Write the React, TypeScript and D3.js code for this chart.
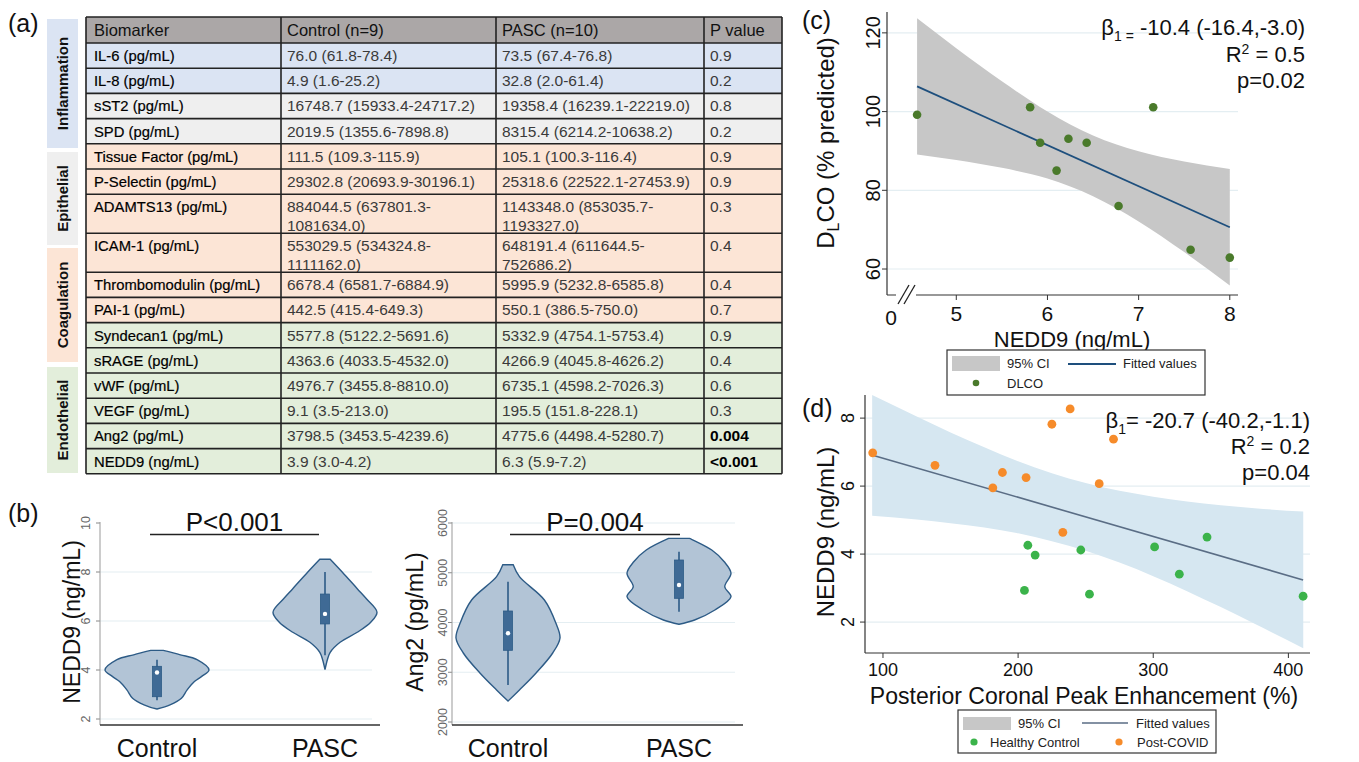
import React from 'react';
import * as d3 from 'd3';

const FONT = '"Liberation Sans", Arial, Helvetica, sans-serif';

// ---- (a) table ----
const tableHeaders = ['Biomarker', 'Control (n=9)', 'PASC (n=10)', 'P value'];
const biomarkers = ['IL-6 (pg/mL)', 'IL-8 (pg/mL)', 'sST2 (pg/mL)', 'SPD (pg/mL)', 'Tissue Factor (pg/mL)',
  'P-Selectin (pg/mL)', 'ADAMTS13 (pg/mL)', 'ICAM-1 (pg/mL)', 'Thrombomodulin (pg/mL)', 'PAI-1 (pg/mL)',
  'Syndecan1 (pg/mL)', 'sRAGE (pg/mL)', 'vWF (pg/mL)', 'VEGF (pg/mL)', 'Ang2 (pg/mL)', 'NEDD9 (ng/mL)'];
const controlValues = ['76.0 (61.8-78.4)', '4.9 (1.6-25.2)', '16748.7 (15933.4-24717.2)', '2019.5 (1355.6-7898.8)',
  '111.5 (109.3-115.9)', '29302.8 (20693.9-30196.1)', '884044.5 (637801.3-1081634.0)', '553029.5 (534324.8-1111162.0)',
  '6678.4 (6581.7-6884.9)', '442.5 (415.4-649.3)', '5577.8 (5122.2-5691.6)', '4363.6 (4033.5-4532.0)',
  '4976.7 (3455.8-8810.0)', '9.1 (3.5-213.0)', '3798.5 (3453.5-4239.6)', '3.9 (3.0-4.2)'];
const pascValues = ['73.5 (67.4-76.8)', '32.8 (2.0-61.4)', '19358.4 (16239.1-22219.0)', '8315.4 (6214.2-10638.2)',
  '105.1 (100.3-116.4)', '25318.6 (22522.1-27453.9)', '1143348.0 (853035.7-1193327.0)', '648191.4 (611644.5-752686.2)',
  '5995.9 (5232.8-6585.8)', '550.1 (386.5-750.0)', '5332.9 (4754.1-5753.4)', '4266.9 (4045.8-4626.2)',
  '6735.1 (4598.2-7026.3)', '195.5 (151.8-228.1)', '4775.6 (4498.4-5280.7)', '6.3 (5.9-7.2)'];
const pValues = ['0.9', '0.2', '0.8', '0.2', '0.9', '0.9', '0.3', '0.4', '0.4', '0.7', '0.9', '0.4', '0.6', '0.3', '0.004', '<0.001'];
const rowGroup = [0, 0, 1, 1, 2, 2, 2, 2, 2, 2, 3, 3, 3, 3, 3, 3];
const groupNames = ['Inflammation', 'Epithelial', 'Coagulation', 'Endothelial'];
const groupColors = ['#dbe4f3', '#efefef', '#fce5d6', '#e3eedb'];

// ---- (b) violins: [value, relative half width] ----
const nedd9ControlShape: [number, number][] = [[2.41, 0], [2.58, 0.25], [2.85, 0.47], [3.19, 0.58], [3.53, 0.72], [3.74, 0.86], [4.0, 1.0], [4.42, 0.77], [4.62, 0.45], [4.8, 0.12]];
const nedd9PascShape: [number, number][] = [[4.02, 0], [4.45, 0.05], [4.72, 0.1], [5.13, 0.29], [5.54, 0.62], [5.95, 0.88], [6.36, 1.0], [6.9, 0.8], [7.32, 0.62], [8.0, 0.33], [8.52, 0.1]];
const ang2ControlShape: [number, number][] = [[2420, 0], [2643, 0.22], [2985, 0.54], [3387, 0.86], [3689, 1.0], [3990, 0.92], [4452, 0.7], [4921, 0.22], [5160, 0.1]];
const ang2PascShape: [number, number][] = [[3964, 0], [4050, 0.3], [4251, 0.69], [4519, 1.0], [4720, 0.88], [4989, 1.0], [5222, 0.87], [5457, 0.63], [5690, 0.2]];
// [low whisker, q1, median, q3, high whisker]
const nedd9ControlBox = [2.77, 2.91, 3.9, 4.15, 4.42];
const nedd9PascBox = [4.6, 5.88, 6.29, 7.1, 8.0];
const ang2ControlBox = [2744, 3441, 3784, 4231, 4820];
const ang2PascBox = [4218, 4486, 4754, 5256, 5424];
const groups = ['Control', 'PASC'];
const nedd9Ticks = [2, 4, 6, 8, 10];
const ang2Ticks = [2000, 3000, 4000, 5000, 6000];

// ---- (c) DLCO vs NEDD9 ----
const cNedd9 = [4.57, 5.81, 5.92, 6.10, 6.23, 6.43, 6.78, 7.16, 7.57, 8.0];
const cDlco = [99.2, 101.1, 92.1, 85.0, 93.1, 92.1, 76.0, 101.1, 64.9, 62.9];
const cFitX = [4.57, 8.0];
const cFitY = [106.4, 70.6];
const cBandX = [4.57, 5, 5.5, 6, 6.5, 7, 7.5, 8];
const cBandLow = [89.1, 87.7, 85.7, 83.0, 78.5, 72.1, 64.3, 55.8];
const cBandHigh = [123.7, 116.1, 107.7, 100.0, 93.9, 89.9, 87.3, 85.4];
const cXTicks = [5, 6, 7, 8];
const cYTicks = [60, 80, 100, 120];

// ---- (d) NEDD9 vs posterior coronal peak enhancement ----
const dCovidX = [92.4, 138.5, 188.4, 205.9, 181.3, 225.0, 238.5, 270.6, 260.0, 233.1];
const dCovidY = [6.98, 6.61, 6.40, 6.25, 5.95, 7.82, 8.27, 7.38, 6.07, 4.64];
const dHealthyX = [207.2, 212.6, 246.4, 204.7, 252.8, 301.0, 319.3, 339.8, 410.9];
const dHealthyY = [4.26, 3.97, 4.12, 2.93, 2.82, 4.21, 3.41, 4.50, 2.76];
const dFitX = [92.4, 410.9];
const dFitY = [6.91, 3.24];
const dBandX = [92, 125, 150, 175, 200, 225, 250, 275, 300, 325, 350, 375, 411];
const dBandLow = [5.13, 5.02, 4.91, 4.78, 4.61, 4.38, 4.10, 3.75, 3.35, 2.91, 2.44, 1.95, 1.23];
const dBandHigh = [8.68, 8.05, 7.58, 7.14, 6.73, 6.38, 6.09, 5.86, 5.69, 5.55, 5.44, 5.35, 5.25];
const dXTicks = [100, 200, 300, 400];
const dYTicks = [2, 4, 6, 8];

const GRID = '#e4eef2';

function wrapCell(s: string): string[] {
  if (s.length <= 26) return [s];
  const i = s.indexOf('-', s.indexOf('('));
  return [s.slice(0, i + 1), s.slice(i + 1)];
}

function Table() {
  const cols = [86, 281, 496, 704, 782];
  const headerTop = 17, headerBottom = 43;
  const rows = biomarkers.map((b, i) => {
    const c = wrapCell(controlValues[i]);
    const p = wrapCell(pascValues[i]);
    return { b, c, p, pv: pValues[i], g: rowGroup[i], h: c.length > 1 || p.length > 1 ? 39 : 25.2 };
  });
  let y = headerBottom;
  const placed = rows.map(r => { const top = y; y += r.h; return { ...r, top }; });
  const bottom = y;
  const sideBoxes = [[19, 148], [152, 245], [248, 362], [367, 473]];
  return (
    <g fontFamily={FONT}>
      {sideBoxes.map(([a, b], i) => (
        <g key={i}>
          <rect x={47} y={a} width={31} height={b - a} fill={groupColors[i]} />
          <text transform={`translate(68,${(a + b) / 2}) rotate(-90)`} textAnchor="middle" fontSize={15} fontWeight="bold" fill="#111">{groupNames[i]}</text>
        </g>
      ))}
      <rect x={cols[0]} y={headerTop} width={cols[4] - cols[0]} height={headerBottom - headerTop} fill="#aba7a7" />
      {placed.map((r, i) => (
        <rect key={i} x={cols[0]} y={r.top} width={cols[4] - cols[0]} height={r.h} fill={groupColors[r.g]} />
      ))}
      {tableHeaders.map((t, j) => (
        <text key={j} x={cols[j] + (j === 0 ? 8 : 6)} y={headerTop + 19} fontSize={16.5} fill="#111">{t}</text>
      ))}
      {placed.map((r, i) => (
        <g key={i}>
          <text x={cols[0] + 8} y={r.top + 18} fontSize={14.8} fill="#000" stroke="#000" strokeWidth={0.2}>{r.b}</text>
          {r.c.map((l, k) => <text key={k} x={cols[1] + 6} y={r.top + 18 + k * 19} fontSize={15.5} fill="#3a3a3a">{l}</text>)}
          {r.p.map((l, k) => <text key={k} x={cols[2] + 6} y={r.top + 18 + k * 19} fontSize={15.5} fill="#3a3a3a">{l}</text>)}
          <text x={cols[3] + 6} y={r.top + 18} fontSize={15.5} fill={r.pv === '0.004' || r.pv === '<0.001' ? '#000' : '#3a3a3a'}
            fontWeight={r.pv === '0.004' || r.pv === '<0.001' ? 'bold' : 'normal'}>{r.pv}</text>
        </g>
      ))}
      {[headerTop, headerBottom, ...placed.map(r => r.top + r.h)].map((yy, i) => (
        <line key={'h' + i} x1={cols[0]} x2={cols[4]} y1={yy} y2={yy} stroke="#222" strokeWidth={1.6} />
      ))}
      {cols.map((xx, i) => (
        <line key={'v' + i} x1={xx} x2={xx} y1={headerTop} y2={bottom} stroke="#222" strokeWidth={1.6} />
      ))}
    </g>
  );
}

function Violin({ shape, box, cx, y }: { shape: [number, number][]; box: number[]; cx: number; y: d3.ScaleLinear<number, number> }) {
  const w = d3.scaleLinear().domain([0, 1]).range([0, 52]);
  const area = d3.area<[number, number]>()
    .y(d => y(d[0]))
    .x0(d => cx - w(d[1]))
    .x1(d => cx + w(d[1]))
    .curve(d3.curveCatmullRom);
  const [lo, q1, med, q3, hi] = box;
  return (
    <g>
      <path d={area(shape) || ''} fill="#b2c4d6" stroke="#2d5b86" strokeWidth={1.4} />
      <line x1={cx} x2={cx} y1={y(lo)} y2={y(hi)} stroke="#2d5b86" strokeWidth={1.6} />
      <rect x={cx - 4.5} width={9} y={y(q3)} height={y(q1) - y(q3)} fill="#3f6a95" stroke="#2d5b86" strokeWidth={0.8} />
      <circle cx={cx} cy={y(med)} r={2.2} fill="#fff" />
    </g>
  );
}

function ViolinPanel({ axisX, right, yDomain, yRange, ticks, label, labelX, tickX, xRange, shapes, boxes, pText, pLine, topGrid }: any) {
  const y = d3.scaleLinear().domain(yDomain).range(yRange);
  const x = d3.scalePoint().domain(groups).range(xRange);
  return (
    <g fontFamily={FONT}>
      {ticks.map((t: number, i: number) => (
        <g key={t}>
          {i < ticks.length - 1 || topGrid ? <line x1={axisX} x2={right - 8} y1={y(t)} y2={y(t)} stroke={GRID} strokeWidth={1.2} /> : null}
          <line x1={axisX - 4} x2={axisX} y1={y(t)} y2={y(t)} stroke="#888" />
          <text transform={`translate(${tickX},${y(t)}) rotate(-90)`} textAnchor="middle" fontSize={12.5} fill="#666">{t}</text>
        </g>
      ))}
      <line x1={axisX} x2={axisX} y1={522} y2={725} stroke="#999" strokeWidth={1} />
      <line x1={axisX} x2={right} y1={725} y2={725} stroke="#333" strokeWidth={1.3} />
      {groups.map((g, i) => (
        <Violin key={g} shape={shapes[i]} box={boxes[i]} cx={x(g) as number} y={y} />
      ))}
      {groups.map(g => (
        <text key={g} x={x(g) as number} y={757} textAnchor="middle" fontSize={25} fill="#111">{g}</text>
      ))}
      <text transform={`translate(${labelX},622) rotate(-90)`} textAnchor="middle" fontSize={23} fill="#111">{label}</text>
      <line x1={pLine[0]} x2={pLine[1]} y1={534.5} y2={534.5} stroke="#222" strokeWidth={1.3} />
      <text x={(pLine[0] + pLine[1]) / 2} y={531} textAnchor="middle" fontSize={26} fill="#111">{pText}</text>
    </g>
  );
}

function PanelC() {
  const x = d3.scaleLinear().domain([4.24, 8.09]).range([887, 1238]);
  const y = d3.scaleLinear().domain([53.4, 125.3]).range([295, 12]);
  const band = d3.area<number>().x((_, i) => x(cBandX[i])).y0((_, i) => y(cBandLow[i])).y1((_, i) => y(cBandHigh[i])).curve(d3.curveMonotoneX);
  const fit = d3.line<number>().x((_, i) => x(cFitX[i])).y(d => y(d));
  return (
    <g fontFamily={FONT} fill="#111">
      {cYTicks.map(t => (
        <g key={t}>
          <line x1={887} x2={1238} y1={y(t)} y2={y(t)} stroke={GRID} strokeWidth={1.2} />
          <line x1={882} x2={887} y1={y(t)} y2={y(t)} stroke="#333" />
          <text transform={`translate(880,${y(t)}) rotate(-90)`} textAnchor="middle" fontSize={20}>{t}</text>
        </g>
      ))}
      <path d={band(cBandX) || ''} fill="#c7c7c7" />
      <path d={fit(cFitY) || ''} fill="none" stroke="#1e4f7d" strokeWidth={1.8} />
      {cNedd9.map((v, i) => <circle key={i} cx={x(v)} cy={y(cDlco[i])} r={4.3} fill="#4a7a2b" />)}
      <line x1={887} x2={887} y1={12} y2={295} stroke="#333" strokeWidth={1.2} />
      <line x1={887} x2={1238} y1={295} y2={295} stroke="#333" strokeWidth={1.2} />
      {cXTicks.map(t => (
        <g key={t}>
          <line x1={x(t)} x2={x(t)} y1={295} y2={300} stroke="#333" />
          <text x={x(t)} y={321} textAnchor="middle" fontSize={21}>{t}</text>
        </g>
      ))}
      <text x={891} y={325} textAnchor="middle" fontSize={21}>0</text>
      <rect x={896} y={286} width={20} height={16} fill="#fff" />
      <line x1={898} x2={909} y1={304} y2={285} stroke="#222" strokeWidth={1.3} />
      <line x1={904} x2={915} y1={304} y2={285} stroke="#222" strokeWidth={1.3} />
      <text x={1072} y={347} textAnchor="middle" fontSize={22}>NEDD9 (ng/mL)</text>
      <text transform="translate(834,143) rotate(-90)" textAnchor="middle" fontSize={24}>
        D<tspan dy={5} fontSize={16}>L</tspan><tspan dy={-5}>CO (% predicted)</tspan>
      </text>
      <text x={1305} y={35} textAnchor="end" fontSize={22}>
        β<tspan dy={6} fontSize={14}>1 =</tspan><tspan dy={-6}> -10.4 (-16.4,-3.0)</tspan>
      </text>
      <text x={1305} y={62} textAnchor="end" fontSize={22}>
        R<tspan dy={-8} fontSize={14}>2</tspan><tspan dy={8}> = 0.5</tspan>
      </text>
      <text x={1305} y={88} textAnchor="end" fontSize={22}>p=0.02</text>
      <g fontSize={13} fill="#222">
        <rect x={947} y={350} width={258} height={45} fill="#fff" stroke="#333" strokeWidth={1.2} />
        <rect x={952} y={356} width={48} height={15} fill="#c7c7c7" />
        <text x={1007} y={368}>95% CI</text>
        <line x1={1068} x2={1116} y1={364} y2={364} stroke="#1e4f7d" strokeWidth={1.8} />
        <text x={1123} y={368}>Fitted values</text>
        <circle cx={976} cy={383} r={3.3} fill="#4a7a2b" />
        <text x={1007} y={388}>DLCO</text>
      </g>
    </g>
  );
}

function PanelD() {
  const x = d3.scaleLinear().domain([86.7, 416]).range([865, 1310]);
  const y = d3.scaleLinear().domain([1.09, 8.68]).range([653, 395]);
  const band = d3.area<number>().x((_, i) => x(dBandX[i])).y0((_, i) => y(dBandLow[i])).y1((_, i) => y(dBandHigh[i])).curve(d3.curveMonotoneX);
  const fit = d3.line<number>().x((_, i) => x(dFitX[i])).y(d => y(d));
  return (
    <g fontFamily={FONT} fill="#111">
      {dYTicks.map(t => (
        <g key={t}>
          <line x1={865} x2={1310} y1={y(t)} y2={y(t)} stroke={GRID} strokeWidth={1.2} />
          <line x1={860} x2={865} y1={y(t)} y2={y(t)} stroke="#333" />
          <text transform={`translate(854,${y(t)}) rotate(-90)`} textAnchor="middle" fontSize={18}>{t}</text>
        </g>
      ))}
      <path d={band(dBandX) || ''} fill="#d6e7f1" />
      <path d={fit(dFitY) || ''} fill="none" stroke="#5a6d85" strokeWidth={1.6} />
      {dCovidX.map((v, i) => <circle key={'c' + i} cx={x(v)} cy={y(dCovidY[i])} r={4.4} fill="#f68b2a" />)}
      {dHealthyX.map((v, i) => <circle key={'h' + i} cx={x(v)} cy={y(dHealthyY[i])} r={4.4} fill="#3bb34a" />)}
      <line x1={865} x2={865} y1={395} y2={653} stroke="#333" strokeWidth={1.2} />
      <line x1={865} x2={1310} y1={653} y2={653} stroke="#333" strokeWidth={1.2} />
      {dXTicks.map(t => (
        <g key={t}>
          <line x1={x(t)} x2={x(t)} y1={653} y2={658} stroke="#333" />
          <text x={x(t)} y={676} textAnchor="middle" fontSize={18}>{t}</text>
        </g>
      ))}
      <text x={1084} y={704} textAnchor="middle" fontSize={23}>Posterior Coronal Peak Enhancement (%)</text>
      <text transform="translate(834,532) rotate(-90)" textAnchor="middle" fontSize={24}>NEDD9 (ng/mL)</text>
      <text x={1310} y={428} textAnchor="end" fontSize={22}>
        β<tspan dy={6} fontSize={14}>1</tspan><tspan dy={-6}>= -20.7 (-40.2,-1.1)</tspan>
      </text>
      <text x={1310} y={454} textAnchor="end" fontSize={22}>
        R<tspan dy={-8} fontSize={14}>2</tspan><tspan dy={8}> = 0.2</tspan>
      </text>
      <text x={1310} y={480} textAnchor="end" fontSize={22}>p=0.04</text>
      <g fontSize={13} fill="#222">
        <rect x={958} y={710} width={258} height={43} fill="#fff" stroke="#333" strokeWidth={1.2} />
        <rect x={963} y={717} width={48} height={13} fill="#c7c7c7" />
        <text x={1018} y={728}>95% CI</text>
        <line x1={1082} x2={1128} y1={723} y2={723} stroke="#5a6d85" strokeWidth={1.5} />
        <text x={1136} y={728}>Fitted values</text>
        <circle cx={974} cy={742} r={3.6} fill="#3bb34a" />
        <text x={990} y={747}>Healthy Control</text>
        <circle cx={1119} cy={742} r={3.6} fill="#f68b2a" />
        <text x={1137} y={747}>Post-COVID</text>
      </g>
    </g>
  );
}

export default function App() {
  return (
    <svg width={1359} height={762} style={{ position: 'absolute', left: 0, top: 0, background: '#fff' }}>
      <rect width={1359} height={762} fill="#fff" />
      <g fontFamily={FONT} fontSize={25} fill="#111">
        <text x={8} y={32}>(a)</text>
        <text x={8} y={522}>(b)</text>
        <text x={802} y={29}>(c)</text>
        <text x={802} y={417}>(d)</text>
      </g>
      <Table />
      <ViolinPanel axisX={100} right={380} yDomain={[2, 10]} yRange={[719, 523]} ticks={nedd9Ticks}
        label="NEDD9 (ng/mL)" labelX={80} tickX={90} xRange={[157, 325]}
        shapes={[nedd9ControlShape, nedd9PascShape]} boxes={[nedd9ControlBox, nedd9PascBox]}
        pText="P<0.001" pLine={[150, 319]} topGrid={false} />
      <ViolinPanel axisX={452} right={743} yDomain={[2000, 6000]} yRange={[722, 523]} ticks={ang2Ticks}
        label="Ang2 (pg/mL)" labelX={423} tickX={447} xRange={[508, 679]}
        shapes={[ang2ControlShape, ang2PascShape]} boxes={[ang2ControlBox, ang2PascBox]}
        pText="P=0.004" pLine={[510, 680]} topGrid={true} />
      <PanelC />
      <PanelD />
    </svg>
  );
}
